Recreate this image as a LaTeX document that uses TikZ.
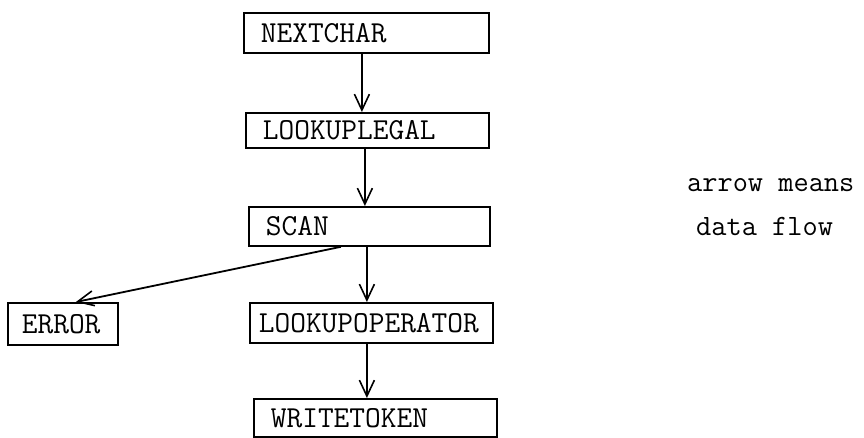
\documentclass[tikz,border=0pt]{standalone}
\usepackage{fontspec}
\newcommand{\boxfont}{\ttfamily\fontsize{30.5}{34}\selectfont}
\newcommand{\legendfont}{\ttfamily\fontsize{29.5}{34}\selectfont}
\usepackage{tikz}
\usetikzlibrary{arrows.meta}
\tikzset{
  blk/.style={draw, line width=1.8pt, anchor=north west, minimum height=40pt,
    inner xsep=17pt, inner ysep=0pt, align=left, font=\boxfont},
  flow/.style={line width=1.8pt, -{Straight Barb[length=16pt, width=15pt, line width=1.6pt]}},
  legend/.style={anchor=base west, inner sep=0pt, font=\legendfont}
}

\begin{document}
\begin{tikzpicture}[x=1pt, y=-1pt]
          \useasboundingbox (0,0) rectangle (864,438);
          \node[blk, text width=211pt] (nextchar) at (243,12) {NEXTCHAR};
          \node[blk, text width=209pt, minimum height=35pt] (lookuplegal) at (245,112) {LOOKUPLEGAL};
          \node[blk, text width=207pt, minimum height=39pt] (scan) at (248,206) {SCAN};
          \node[blk, text width=82pt, inner xsep=14pt, minimum height=42pt] (error) at (7,302) {ERROR};
          \node[blk, text width=225pt, inner xsep=9pt] (lookupoperator) at (249,302) {LOOKUPOPERATOR};
          \node[blk, text width=209pt, minimum height=38pt] (writetoken) at (253,398) {WRITETOKEN};
          % data flow
          \draw[flow] ([xshift=-4.5pt]nextchar.south) -- ([xshift=-4.5pt]nextchar.south |- lookuplegal.north);
          \draw[flow] ([xshift=-2.5pt]lookuplegal.south) -- ([xshift=-2.5pt]lookuplegal.south |- scan.north);
          \draw[flow] ([xshift=-2.5pt]scan.south) -- ([xshift=-2.5pt]scan.south |- lookupoperator.north);
          \draw[flow] ([xshift=-4.5pt]lookupoperator.south) -- ([xshift=-4.5pt]lookupoperator.south |- writetoken.north);
          \draw[flow] ([xshift=-28.5pt]scan.south) -- ([xshift=13pt]error.north);
          \node[legend] (means) at (687,192) {arrow means};
          \node[legend] (dataflow) at (696,236) {data flow};
        \end{tikzpicture}
\end{document}
